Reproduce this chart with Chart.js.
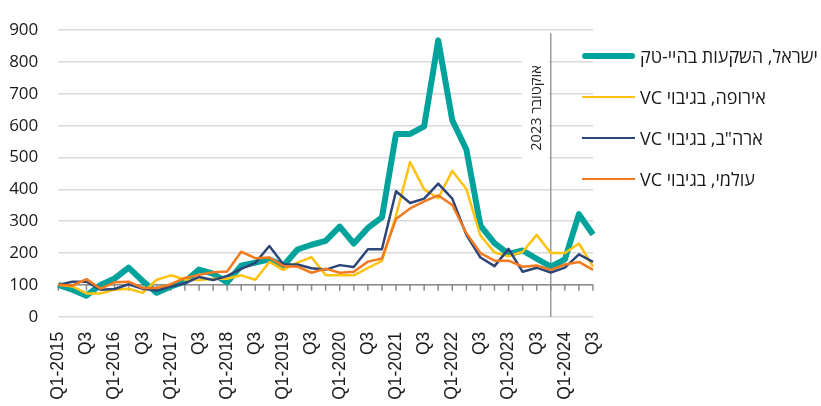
<!DOCTYPE html>
<html lang="he">
<head>
<meta charset="utf-8">
<script src="https://cdn.jsdelivr.net/npm/chart.js@4"></script>
<style>
  html, body { margin: 0; padding: 0; background: #fff; }
  #wrap { position: relative; width: 821px; height: 406px; }
  #legend { position: absolute; left: 0; top: 0; }
  .item { position: absolute; left: 582px; display: flex; align-items: center; height: 24px; white-space: nowrap; }
  .item .swatch { width: 53px; margin-right: 5px; }
  .item span { font: 18px "Open Sans"; color: #1a1a1a; }
  #marker { position: absolute; white-space: nowrap; font: 14.5px "Open Sans"; color: #222;
            transform: translate(-50%, -50%) rotate(-90deg); }
</style>
</head>
<body>
<div id="wrap">
  <canvas id="chart" width="821" height="406"></canvas>
  <div id="legend"></div>
  <div id="marker" dir="rtl"></div>
</div>
<script>
// quarters, Q1-2015 .. Q3-2024
const categories = [
    "Q1-2015", "Q2-2015", "Q3-2015", "Q4-2015",
    "Q1-2016", "Q2-2016", "Q3-2016", "Q4-2016",
    "Q1-2017", "Q2-2017", "Q3-2017", "Q4-2017",
    "Q1-2018", "Q2-2018", "Q3-2018", "Q4-2018",
    "Q1-2019", "Q2-2019", "Q3-2019", "Q4-2019",
    "Q1-2020", "Q2-2020", "Q3-2020", "Q4-2020",
    "Q1-2021", "Q2-2021", "Q3-2021", "Q4-2021",
    "Q1-2022", "Q2-2022", "Q3-2022", "Q4-2022",
    "Q1-2023", "Q2-2023", "Q3-2023", "Q4-2023",
    "Q1-2024", "Q2-2024", "Q3-2024"
];

const tickLabels = [
    "Q1-2015", "", "Q3", "",
    "Q1-2016", "", "Q3", "",
    "Q1-2017", "", "Q3", "",
    "Q1-2018", "", "Q3", "",
    "Q1-2019", "", "Q3", "",
    "Q1-2020", "", "Q3", "",
    "Q1-2021", "", "Q3", "",
    "Q1-2022", "", "Q3", "",
    "Q1-2023", "", "Q3", "",
    "Q1-2024", "", "Q3"
];

const israelHighTech = [100, 85, 66, 100, 120, 154, 112, 75, 95, 110, 148, 135, 108, 160, 170, 180, 160, 211, 226, 238, 283, 230, 279, 312, 574, 574, 598, 868, 617, 525, 286, 231, 197, 208, 182, 157, 180, 322, 258];
const europeVC = [100, 95, 73, 73, 85, 88, 75, 116, 130, 117, 115, 119, 119, 130, 116, 172, 147, 170, 187, 130, 130, 130, 153, 175, 317, 486, 400, 372, 458, 401, 255, 202, 190, 204, 257, 200, 200, 230, 157];
const usaVC = [100, 110, 110, 85, 87, 102, 88, 82, 95, 105, 125, 115, 128, 150, 169, 222, 164, 164, 152, 148, 162, 156, 212, 212, 394, 357, 371, 418, 371, 257, 186, 159, 213, 141, 154, 139, 154, 196, 172];
const globalVC = [100, 98, 118, 88, 108, 110, 90, 90, 102, 122, 132, 140, 142, 204, 184, 186, 159, 157, 138, 151, 138, 141, 173, 183, 307, 340, 362, 381, 351, 262, 200, 176, 176, 157, 161, 147, 164, 172, 147];

const seriesNames = ["ישראל, השקעות בהיי-טק", "אירופה, בגיבוי VC", "ארה\"ב, בגיבוי VC", "עולמי, בגיבוי VC"];

const yMin = 0;
const yMax = 900;
const yStep = 100;
const axisCross = 100;          // horizontal axis line sits at 100
const markerIndex = 35;         // Q4-2023
const markerLabel = "אוקטובר 2023";

const colors = ["#00a39b", "#ffc20e", "#2e4677", "#f47a20"];

const decor = {
    id: "decor",
    beforeDatasetsDraw(chart) {
        const ctx = chart.ctx;
        const xs = chart.scales.x;
        const ys = chart.scales.y;
        const area = chart.chartArea;

        // axis line crossing at 100, with tick marks
        const ay = ys.getPixelForValue(axisCross);
        ctx.save();
        ctx.strokeStyle = "#8a8a8a";
        ctx.lineWidth = 1.5;
        ctx.beginPath();
        ctx.moveTo(area.left, ay);
        ctx.lineTo(area.right, ay);
        for (let i = 0; i < categories.length; i++) {
            const px = xs.getPixelForValue(i);
            ctx.moveTo(px, ay);
            ctx.lineTo(px, ay + 6);
        }
        ctx.stroke();

        // October 2023 marker
        const mx = xs.getPixelForValue(markerIndex);
        ctx.fillStyle = "#fff";
        ctx.fillRect(mx - 29, area.top + 6, 27, 137);
        ctx.strokeStyle = "#8c8c8c";
        ctx.lineWidth = 1.3;
        ctx.beginPath();
        ctx.moveTo(mx, area.top + 3);
        ctx.lineTo(mx, area.bottom);
        ctx.stroke();
        ctx.restore();

        const m = document.getElementById("marker");
        m.textContent = markerLabel;
        m.style.left = (mx - 16) + "px";
        m.style.top = (area.top + 78) + "px";
    }
};

const seriesData = [israelHighTech, europeVC, usaVC, globalVC];
const widths = [6, 2.5, 2.5, 2.5];

const chart = new Chart(document.getElementById("chart"), {
    type: "line",
    data: {
        labels: categories,
        datasets: seriesData.map((d, i) => ({
            label: seriesNames[i],
            data: d,
            borderColor: colors[i],
            backgroundColor: colors[i],
            borderWidth: widths[i],
            pointRadius: 0,
            tension: 0,
            fill: false,
            borderJoinStyle: "round",
            order: 4 - i
        }))
    },
    options: {
        responsive: false,
        animation: false,
        layout: { padding: { top: 14, right: 228, left: 0, bottom: 0 } },
        plugins: {
            legend: { display: false },
            tooltip: { enabled: false }
        },
        scales: {
            x: {
                grid: { display: false, drawTicks: false },
                border: { display: false },
                ticks: {
                    autoSkip: false,
                    minRotation: 90,
                    maxRotation: 90,
                    padding: 15,
                    color: "#1a1a1a",
                    font: { family: "'Liberation Sans'", size: 17.5 },
                    callback: (v, i) => tickLabels[i]
                },
                afterFit: (axis) => { axis.height = 89.3; }
            },
            y: {
                min: yMin,
                max: yMax,
                grid: { color: "#d9d9d9", lineWidth: 1.5, drawTicks: false },
                border: { display: false },
                ticks: {
                    stepSize: yStep,
                    padding: 20,
                    color: "#1a1a1a",
                    font: { family: "'Open Sans'", size: 17 }
                },
                afterFit: (axis) => { axis.width = 58.3; }
            }
        }
    },
    plugins: [decor]
});

// html legend, so the Hebrew text gets proper bidi layout
const legendBox = document.getElementById("legend");
chart.data.datasets.forEach((ds, i) => {
    const row = document.createElement("div");
    row.className = "item";
    row.style.top = (56 + i * 41 - 12) + "px";
    const sw = document.createElement("div");
    sw.className = "swatch";
    sw.style.height = ds.borderWidth + "px";
    sw.style.background = ds.borderColor;
    if (i === 0) sw.style.borderRadius = "3px";
    const txt = document.createElement("span");
    txt.dir = "rtl";
    txt.textContent = ds.label;
    row.appendChild(sw);
    row.appendChild(txt);
    legendBox.appendChild(row);
});
</script>
</body>
</html>
